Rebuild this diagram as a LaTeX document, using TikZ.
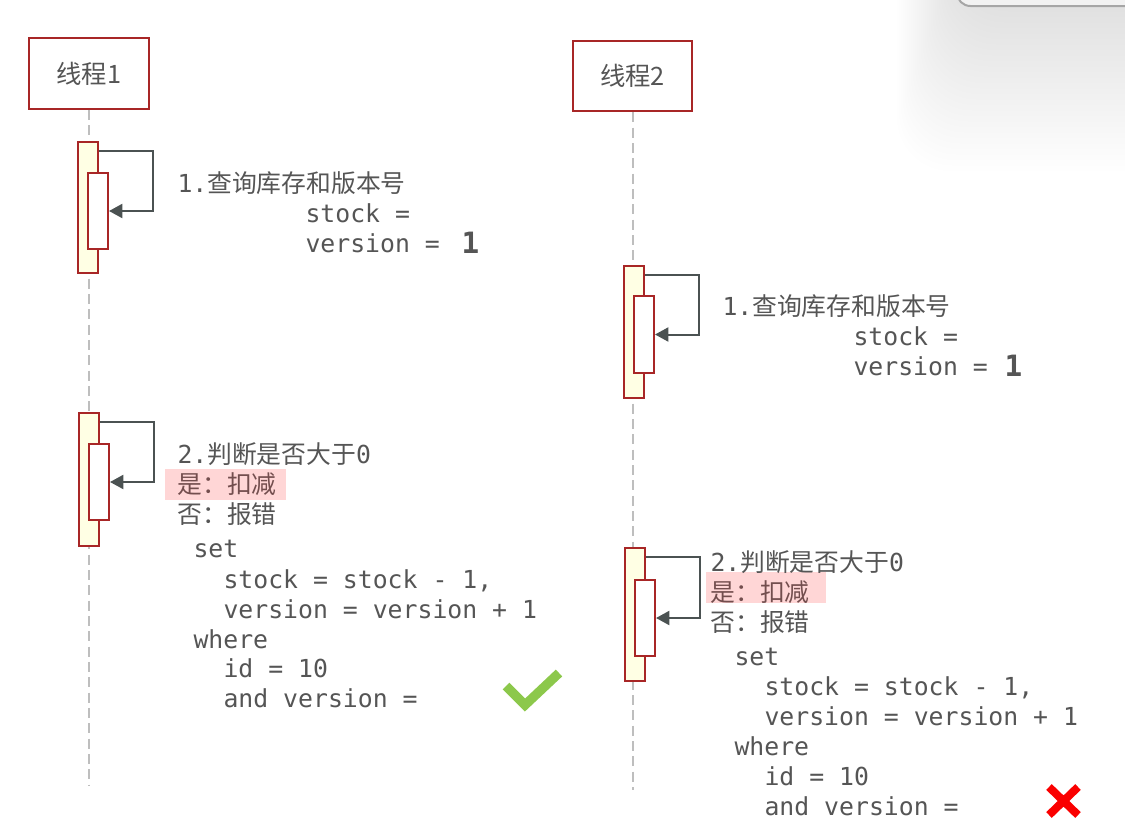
\documentclass[tikz,border=0pt]{standalone}
\usepackage{fontspec}
\setmonofont{DejaVu Sans Mono}
\newfontfamily\cjk{Noto Sans CJK SC}
\usetikzlibrary{arrows.meta,calc}

\definecolor{boxred}{RGB}{168,38,38}
\definecolor{actfill}{RGB}{255,255,228}
\definecolor{txtgray}{RGB}{85,85,85}
\definecolor{arrgray}{RGB}{75,82,82}
\definecolor{lifegray}{RGB}{190,190,190}
\definecolor{hlpink}{RGB}{255,214,214}
\definecolor{hltxt}{RGB}{115,78,78}
\definecolor{okgreen}{RGB}{140,200,75}
\definecolor{badred}{RGB}{250,0,0}

\newcommand{\zh}[1]{{\cjk #1}}

\tikzset{every picture/.style={line width=0.75pt}}
\tikzset{
  thread/.style={draw=boxred, line width=1.5pt, fill=white, minimum width=89.5pt, minimum height=53pt, inner sep=0pt, text=txtgray, font=\cjk\fontsize{19}{22}\selectfont},
  outerbar/.style={draw=boxred, line width=1.5pt, fill=actfill, minimum width=15pt, anchor=north west, inner sep=0pt},
  innerbar/.style={draw=boxred, line width=1.5pt, fill=white, minimum width=15pt, anchor=north west, inner sep=0pt},
  lifeline/.style={draw=lifegray, line width=1.5pt, dash pattern=on 7.5pt off 4pt},
  selfmsg/.style={draw=arrgray, line width=1.5pt, -{Triangle[length=10pt,width=10.5pt]}},
  code/.style={anchor=base west, inner sep=0pt, text=txtgray, font=\ttfamily\fontsize{18.6}{22}\selectfont},
  bignum/.style={anchor=base west, inner sep=0pt, text=txtgray, font=\ttfamily\bfseries\fontsize{22}{26}\selectfont},
  hl/.style={fill=hlpink, draw=none},
}

\begin{document}
\begin{tikzpicture}[x=0.75pt,y=0.75pt,yscale=-1,xscale=1]
\useasboundingbox (0,0) rectangle (1125,825);

% window corner with shadow, top right
\foreach \k in {1,...,30}
  \fill[black, opacity=0.0055, rounded corners=40] (957-2*\k,-80) rectangle (1200,6+5.5*\k);
\filldraw[fill=black!5, draw=black!35, line width=1.5pt, rounded corners=10] (957,-30) -- (957,6) -- (1200,6) -- (1200,-30) -- cycle;

%Shape: Rectangle (threads)
\node[thread] (t1) at (89,73.5) {线程1};
\node[thread] (t2) at (632.5,76) {线程2};

%Straight Lines (lifelines)
\coordinate (e1) at (89,785);
\coordinate (e2) at (632.5,790);
\draw[lifeline] (t1.south) -- (e1);
\draw[lifeline] (t2.south) -- (e2);

%Shape: Rectangle (activations)
\node[outerbar, minimum height=131*0.75pt] (o1) at (77,141) {};
\node[innerbar, minimum height=76*0.75pt] (i1) at (87,172) {};
\node[outerbar, minimum height=133*0.75pt] (o2) at (78,412) {};
\node[innerbar, minimum height=76*0.75pt] (i2) at (88,443) {};
\node[outerbar, minimum height=132*0.75pt] (o3) at (623,265) {};
\node[innerbar, minimum height=77*0.75pt] (i3) at (633,295) {};
\node[outerbar, minimum height=133*0.75pt] (o4) at (624,547) {};
\node[innerbar, minimum height=76*0.75pt] (i4) at (634,579) {};

%Straight Lines (self calls)
\draw[selfmsg] ($(o1.north east)+(0,10)$) -- ++(54,0) |- (i1.east);
\draw[selfmsg] ($(o2.north east)+(0,10)$) -- ++(54,0) |- (i2.east);
\draw[selfmsg] ($(o3.north east)+(0,10)$) -- ++(54,0) |- (i3.east);
\draw[selfmsg] ($(o4.north east)+(0,10)$) -- ++(54,0) |- (i4.east);

%Shape: Rectangle (highlights)
\fill[hl] (165,469) rectangle (286,500);
\fill[hl] (706,572) rectangle (826,603);

% Text Node (thread 1)
\node[code] (q1) at (177,192) {1.\zh{查询库存和版本号}};
\node[code] (q1s) at (305,222) {stock =};
\node[code] (q1v) at (305,252) {version =};
\node[bignum] (q1n) at (461,253) {1};
\node[code] (j1) at (177,463) {2.\zh{判断是否大于}0};
\node[code, text=hltxt] (j1y) at (177,493) {\zh{是：扣减}};
\node[code] (j1n) at (177,523) {\zh{否：报错}};
\node[code] (u1a) at (193,557) {set};
\node[code] (u1b) at (223,588) {stock = stock - 1,};
\node[code] (u1c) at (223,618) {version = version + 1};
\node[code] (u1d) at (193,648) {where};
\node[code] (u1e) at (223,677) {id = 10};
\node[code] (u1f) at (223,707) {and version =};

% Text Node (thread 2)
\node[code] (q2) at (722,315) {1.\zh{查询库存和版本号}};
\node[code] (q2s) at (853,345) {stock =};
\node[code] (q2v) at (853,375) {version =};
\node[bignum] (q2n) at (1004,376) {1};
\node[code] (j2) at (710,571) {2.\zh{判断是否大于}0};
\node[code, text=hltxt] (j2y) at (710,601) {\zh{是：扣减}};
\node[code] (j2n) at (710,631) {\zh{否：报错}};
\node[code] (u2a) at (734,665) {set};
\node[code] (u2b) at (764,695) {stock = stock - 1,};
\node[code] (u2c) at (764,725) {version = version + 1};
\node[code] (u2d) at (734,755) {where};
\node[code] (u2e) at (764,785) {id = 10};
\node[code] (u2f) at (764,815) {and version =};

% check and cross
\draw[okgreen, line width=7pt] (506,686) -- (525,705) -- (559,673);
\draw[badred, line width=6pt] (1049,787) -- (1078,815) (1078,787) -- (1049,815);

\end{tikzpicture}
\end{document}
